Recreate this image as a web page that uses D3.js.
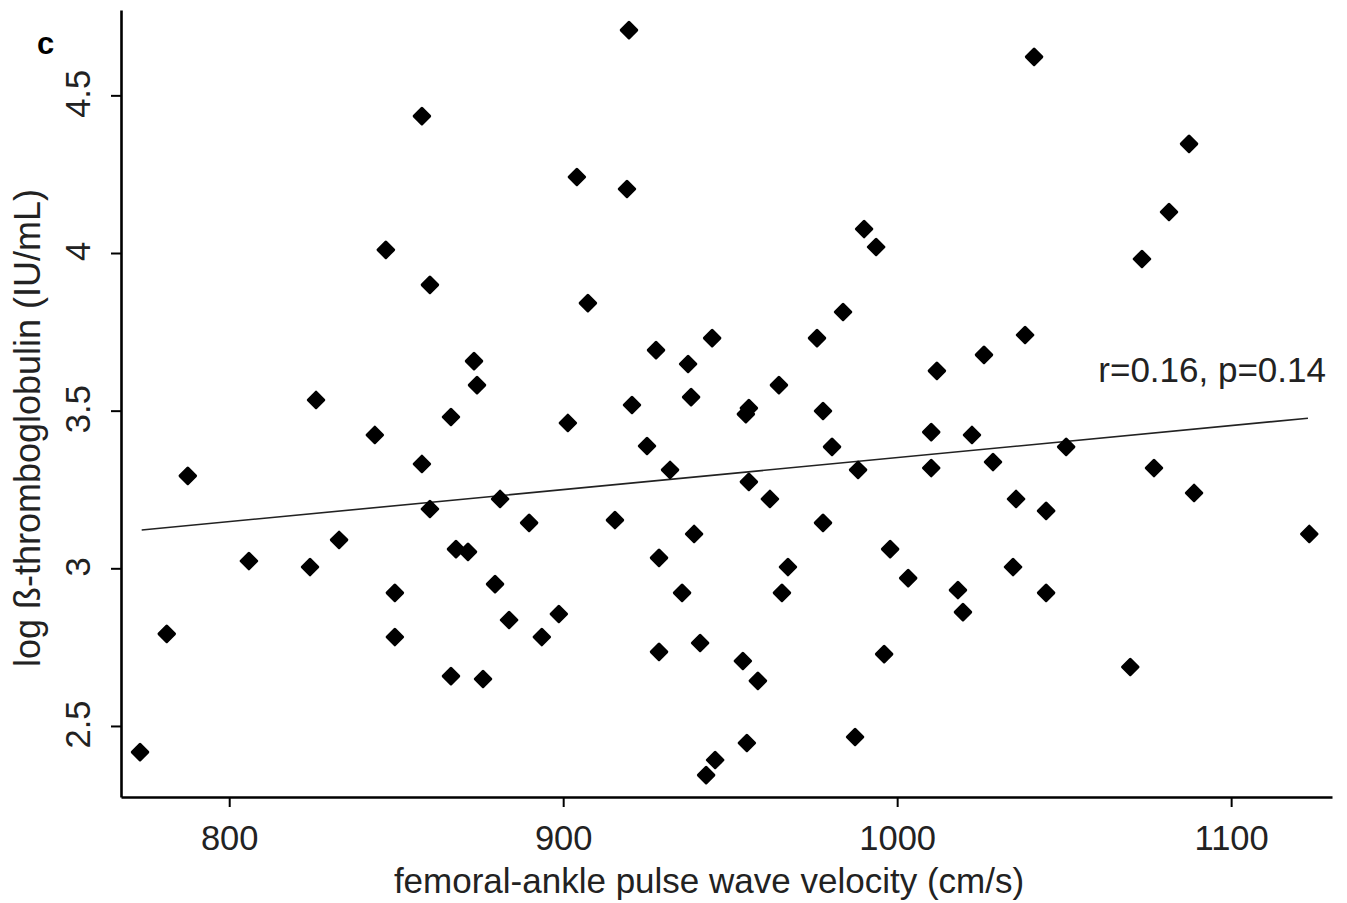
<!DOCTYPE html>
<meta charset="utf-8">
<style>
	body { margin: 0; background: #fff; }
	svg { display: block; }
	.axis path, .axis line { stroke: #000; }
	.axis text { font-family: "Liberation Sans", Arial, sans-serif; fill: #222; }
	.title { font-family: "Liberation Sans", Arial, sans-serif; fill: #222; }
</style>
<body>
<script src="https://d3js.org/d3.v7.min.js"></script>
<script>
// femoral-ankle PWV (cm/s) vs log beta-thromboglobulin
var pwv = [773.3, 781.3, 787.6, 805.9, 824.2, 826.0, 832.9, 843.6, 846.9, 849.6,
	849.6, 857.7, 857.7, 860.1, 860.1, 866.4, 866.4, 867.9, 871.5, 873.3,
	874.2, 876.0, 879.6, 881.1, 883.8, 889.8, 893.6, 898.7, 901.4, 904.1,
	907.4, 915.5, 919.1, 919.7, 920.6, 925.1, 927.8, 928.7, 928.7, 932.0,
	935.6, 937.4, 938.3, 939.2, 941.0, 942.8, 945.5, 944.6, 953.8, 954.7,
	955.6, 955.0, 955.6, 958.3, 961.9, 964.6, 965.5, 967.3, 976.0, 977.8,
	977.8, 980.5, 983.8, 987.4, 988.3, 990.1, 993.7, 996.1, 997.9, 1003.3,
	1010.2, 1010.2, 1011.9, 1018.2, 1019.7, 1022.4, 1026.0, 1028.7, 1034.7, 1035.6,
	1038.3, 1041.0, 1044.6, 1044.6, 1050.6, 1069.8, 1073.3, 1076.9, 1081.4, 1087.4,
	1088.9, 1123.4];
var logBtg = [2.417, 2.792, 3.293, 3.023, 3.004, 3.534, 3.090, 3.423, 4.010, 2.922,
	2.782, 4.434, 3.331, 3.899, 3.188, 3.480, 2.658, 3.061, 3.052, 3.657,
	3.581, 2.649, 2.950, 3.220, 2.836, 3.144, 2.782, 2.855, 3.461, 4.241,
	3.841, 3.153, 4.203, 4.707, 3.518, 3.388, 3.692, 3.033, 2.735, 3.312,
	2.922, 3.648, 3.543, 3.109, 2.763, 2.344, 2.392, 3.730, 2.706, 3.489,
	3.508, 2.446, 3.274, 2.643, 3.220, 3.581, 2.922, 3.004, 3.730, 3.499,
	3.144, 3.385, 3.813, 2.465, 3.312, 4.076, 4.019, 2.728, 3.061, 2.969,
	3.432, 3.318, 3.626, 2.931, 2.861, 3.423, 3.677, 3.337, 3.004, 3.220,
	3.740, 4.622, 3.182, 2.922, 3.385, 2.687, 3.981, 3.318, 4.130, 4.346,
	3.239, 3.109];

// fitted line ends
var fitX = [773.8, 1123.0];
var fitY = [3.1215, 3.476];

var xTicks = [800, 900, 1000, 1100];
var yTicks = [2.5, 3, 3.5, 4, 4.5];
var statLabel = "r=0.16, p=0.14";

var width = 1347, height = 903;
var m = {left: 121, right: 1332, top: 10, bottom: 797};

var svg = d3.select("body").append("svg")
	.attr("width", width)
	.attr("height", height);

var x = d3.scaleLinear().domain([767.6, 1130.2]).range([m.left, m.right]),
	y = d3.scaleLinear().domain([2.2747, 4.7707]).range([m.bottom, m.top]);

// axes
var xa = svg.append("g")
	.attr("class", "axis")
	.attr("transform", "translate(0," + m.bottom + ")")
	.call(d3.axisBottom(x).tickValues(xTicks).tickSize(10).tickSizeOuter(0).tickFormat(d3.format("")));
xa.select(".domain").attr("stroke-width", 2.6);
xa.selectAll(".tick line").attr("stroke-width", 2);
xa.selectAll(".tick text").attr("font-size", 34.5).attr("dy", "0.71em").attr("y", 29);

var ya = svg.append("g")
	.attr("class", "axis")
	.attr("transform", "translate(" + m.left + ",0)")
	.call(d3.axisLeft(y).tickValues(yTicks).tickSize(10).tickSizeOuter(0).tickFormat(d3.format("")));
ya.select(".domain").attr("stroke-width", 2.6);
ya.selectAll(".tick line").attr("stroke-width", 2);
ya.selectAll(".tick text")
	.attr("font-size", 34.5)
	.attr("x", 0).attr("dy", null)
	.attr("text-anchor", "middle")
	.attr("transform", "translate(-31,-2) rotate(-90)");

// regression line
svg.append("line")
	.attr("x1", x(fitX[0])).attr("y1", y(fitY[0]))
	.attr("x2", x(fitX[1])).attr("y2", y(fitY[1]))
	.attr("stroke", "#222")
	.attr("stroke-width", 1.6);

// points
var pts = pwv.map(function(d, i) { return [d, logBtg[i]]; });
svg.append("g").selectAll("path")
	.data(pts)
	.enter()
	.append("path")
	.attr("d", d3.symbol().type(d3.symbolSquare).size(120))
	.attr("transform", function(d) { return "translate(" + x(d[0]) + "," + y(d[1]) + ") rotate(45)"; })
	.attr("fill", "#000")
	.attr("stroke", "#000")
	.attr("stroke-width", 3)
	.attr("stroke-linejoin", "round");

// titles
svg.append("text")
	.attr("class", "title")
	.attr("x", 709)
	.attr("y", 893)
	.attr("text-anchor", "middle")
	.attr("font-size", 35)
	.text("femoral-ankle pulse wave velocity (cm/s)");

svg.append("text")
	.attr("class", "title")
	.attr("transform", "translate(40,428) rotate(-90)")
	.attr("text-anchor", "middle")
	.attr("font-size", 36)
	.text("log ß-thromboglobulin (IU/mL)");

svg.append("text")
	.attr("class", "title")
	.attr("x", 1326)
	.attr("y", 382)
	.attr("text-anchor", "end")
	.attr("font-size", 35)
	.text(statLabel);

svg.append("text")
	.attr("x", 37)
	.attr("y", 54)
	.attr("font-family", "'Liberation Sans', Arial, sans-serif")
	.attr("font-weight", "bold")
	.attr("font-size", 31)
	.attr("fill", "#000")
	.text("c");
</script>
